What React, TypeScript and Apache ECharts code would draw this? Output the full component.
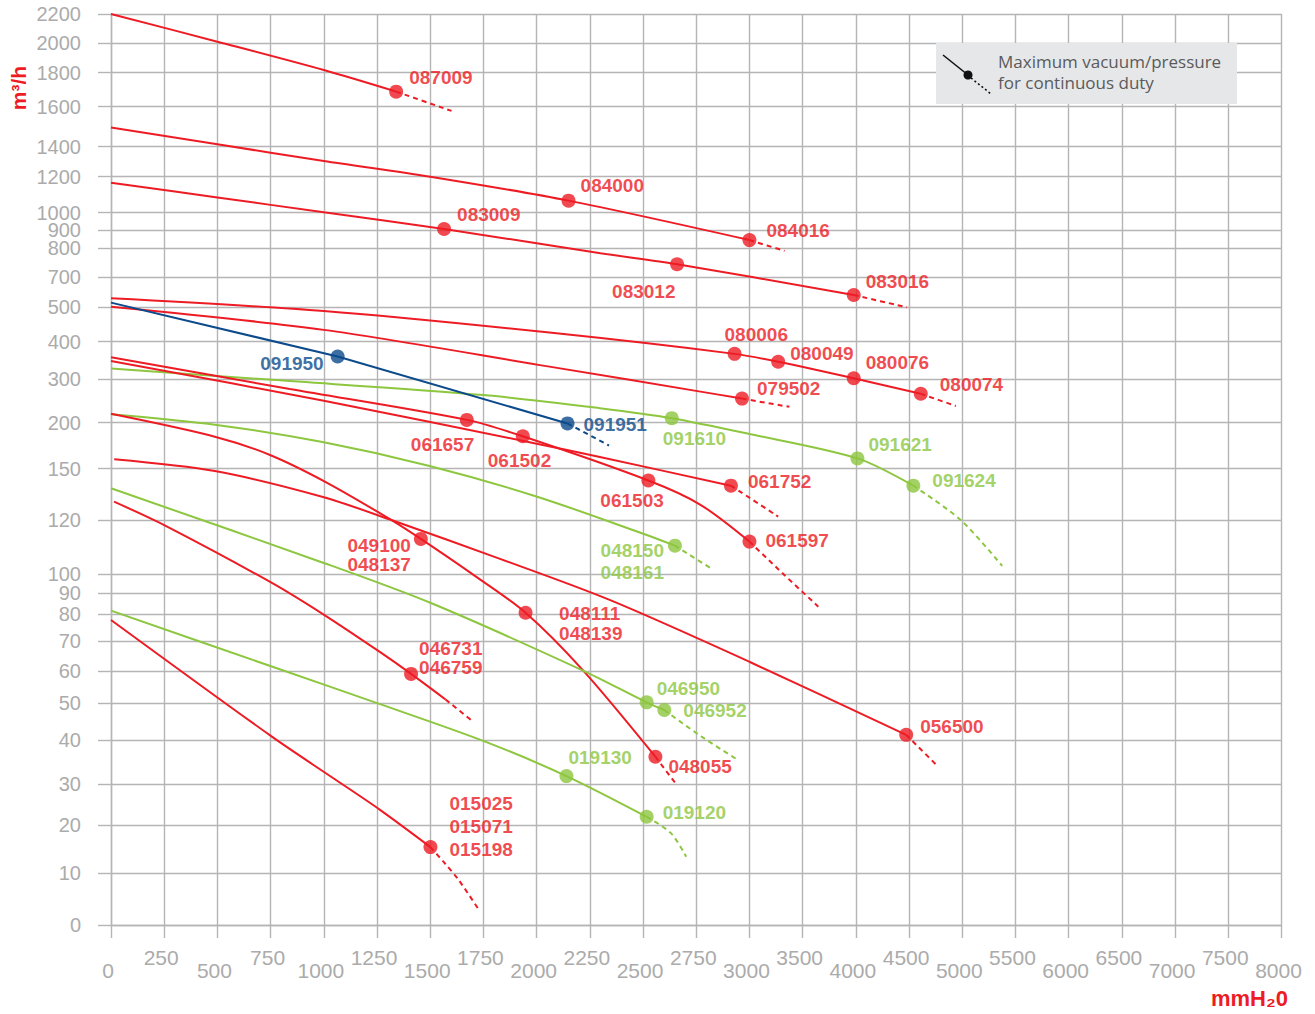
import React, { useEffect, useRef } from 'react';
import * as echarts from 'echarts';

// ---------- axis scales ----------
const xTickLabels = ['0','250','500','750','1000','1250','1500','1750','2000','2250','2500','2750','3000','3500','4000','4500','5000','5500','6000','6500','7000','7500','8000'];
const yTickVals = [0,10,20,30,40,50,60,70,80,90,100,120,150,200,300,400,500,700,800,900,1000,1200,1400,1600,1800,2000,2200];
// axis position of each y tick (non-linear printed scale)
const yTickPos = [0,52,100,141,185,222,254,284,311,332,351,405,456.5,502.5,546,583.5,617.7,647.7,676.7,695,712.3,748.3,778.3,818.5,852.3,881.7,911];

// ---------- data: [mmH2O, m3/h] ----------
const flow087 = [[0,2200],[500,2011],[1000,1818],[1340,1688]];
const dash087 = [[1340,1688],[1600,1578]];
const mark087 = [[1340,1688,'087009']];

const flow084 = [[0,1495],[500,1412],[1000,1305],[1500,1200],[2150,1067],[3000,845]];
const dash084 = [[3000,845],[3330,791]];
const mark084 = [[2150,1067,'084000'],[3000,845,'084016']];

const flow083 = [[0,1167],[500,1085],[1000,1002],[1565,906],[2300,783],[2660,745],[3980,582]];
const dash083 = [[3980,582],[4480,500]];
const mark083 = [[1565,906,'083009'],[2660,745,'083012'],[3980,582,'083016']];

const flow080 = [[0,560],[1000,489],[2060,426],[2930,367],[3270,346],[3980,302],[4610,266]];
const dash080 = [[4610,266],[4940,238]];
const mark080 = [[2930,367,'080006'],[3270,346,'080049'],[3980,302,'080076'],[4610,266,'080074']];

const flow0795 = [[0,504],[1000,434],[2060,333],[2770,271],[2965,255]];
const dash0795 = [[2965,255],[3375,236]];
const mark0795 = [[2965,255,'079502']];

const flow0919 = [[0,531],[1065,360],[2145,199]];
const dash0919 = [[2145,199],[2340,175]];
const mark0919 = [[1065,360,'091950'],[2145,199,'091951']];

const flow0916 = [[0,328],[757,298],[1750,263],[2297,233],[2635,210],[2990,188],[4015,161],[4540,140]];
const dash0916 = [[4540,140],[4985,120],[5375,103]];
const mark0916 = [[2635,210,'091610'],[4015,161,'091621'],[4540,140,'091624']];

const flow0616a = [[0,358],[840,277],[1672,206],[1935,185],[2525,143],[2768,129],[3000,112]];
const dash0616a = [[3000,112],[3318,100],[3647,83.5]];
const mark0616a = [[1672,206,'061657'],[1935,185,'061502'],[2525,143,'061503'],[3000,112,'061597']];

const flow0616b = [[0,348],[1000,250],[2000,177],[2297,162.5],[2913,140]];
const dash0616b = [[2913,140],[3270,122]];
const mark0616b = [[2913,140,'061752']];

const flow0481 = [[0,219],[496,197.4],[994,178.7],[1497,152.7],[1999,133.7],[2498,115],[2650,110.5]];
const dash0481 = [[2650,110.5],[2827,101.7]];
const mark0481 = [[2650,110.5,'048150\n048161']];

const flow048 = [[0,220],[488,184.6],[747,164.7],[1009,142.1],[1324,119.7],[1456,113],[1710,99],[1948,80.6],[2217,60.3],[2558,36.2]];
const dash048 = [[2558,36.2],[2658,29.8]];
const mark048 = [[1456,113,'049100\n048137'],[1948,80.6,'048111\n048139'],[2558,36.2,'048055']];

const flow0565 = [[15,160],[488,148.5],[996,133.4],[1324,119.8],[1828,105.6],[2343,86.7],[3004,63],[4473,41.4]];
const dash0565 = [[4473,41.4],[4750,34.5]];
const mark0565 = [[4473,41.4,'056500']];

const flow0469 = [[0,138.5],[1003,104],[1506,85.1],[2213,60.3],[2517,50.2],[2600,48.1]];
const dash0469 = [[2600,48.1],[2775,40.9],[2945,35.5]];
const mark0469 = [[2517,50.2,'046950'],[2600,48.1,'046952']];

const flow0467 = [[14,130.7],[250,118.1],[756,95.3],[1003,79.6],[1258,66.6],[1410,59.1],[1572,51.1]];
const dash0467 = [[1572,51.1],[1692,45.4]];
const mark0467 = [[1410,59.1,'046731\n046759']];

const flow0191 = [[0,81.6],[759,61.4],[1264,49.7],[1749,39.8],[2140,31.8],[2517,22]];
const dash0191 = [[2517,22],[2631,18.3],[2703,13.4]];
const mark0191 = [[2140,31.8,'019130'],[2517,22,'019120']];

const flow0150 = [[0,77.8],[756,40.9],[1045,31.3],[1264,23.7],[1501,15.4]];
const dash0150 = [[1501,15.4],[1569,12],[1633,8.7],[1729,2.9]];
const mark0150 = [[1501,15.4,'015025\n015071\n015198']];

// ---------- styles ----------
const RED = '#ed1c24';
const GREEN = '#8dc63f';
const BLUE = '#0b4a8b';
const GRID = '#b5b5b5';
const AXIS_TXT = '#ababab';
const NUM_FONT = "'Liberation Sans', Arial, sans-serif";

const curveTable = [
  { color: RED, smooth: 0.3, solid: flow087, dashed: dash087, marks: mark087 },
  { color: RED, smooth: 0.3, solid: flow084, dashed: dash084, marks: mark084 },
  { color: RED, smooth: 0.3, solid: flow083, dashed: dash083, marks: mark083 },
  { color: RED, smooth: 0.3, solid: flow080, dashed: dash080, marks: mark080 },
  { color: RED, smooth: 0.3, solid: flow0795, dashed: dash0795, marks: mark0795 },
  { color: GREEN, smooth: 0.3, solid: flow0916, dashed: dash0916, marks: mark0916 },
  { color: BLUE, smooth: 0, solid: flow0919, dashed: dash0919, marks: mark0919 },
  { color: RED, smooth: 0.3, solid: flow0616b, dashed: dash0616b, marks: mark0616b },
  { color: RED, smooth: 0.3, solid: flow0616a, dashed: dash0616a, marks: mark0616a },
  { color: GREEN, smooth: 0.3, solid: flow0481, dashed: dash0481, marks: mark0481 },
  { color: RED, smooth: 0.3, solid: flow048, dashed: dash048, marks: mark048 },
  { color: RED, smooth: 0.3, solid: flow0565, dashed: dash0565, marks: mark0565 },
  { color: GREEN, smooth: 0.3, solid: flow0469, dashed: dash0469, marks: mark0469 },
  { color: RED, smooth: 0.3, solid: flow0467, dashed: dash0467, marks: mark0467 },
  { color: GREEN, smooth: 0.3, solid: flow0191, dashed: dash0191, marks: mark0191 },
  { color: RED, smooth: 0.3, solid: flow0150, dashed: dash0150, marks: mark0150 },
];

// label placement relative to marker centre (px): [dx, dy, align, lineHeight]
const labelLayout: Record<string, [number, number, string, number?]> = {
  '087009': [13, -14, 'left'],
  '084000': [12, -15, 'left'],
  '084016': [17, -10, 'left'],
  '083009': [13, -14, 'left'],
  '083012': [-65, 27, 'left'],
  '083016': [12, -14, 'left'],
  '080006': [-10, -19, 'left'],
  '080049': [12, -8, 'left'],
  '080076': [12, -16, 'left'],
  '080074': [19, -9, 'left'],
  '079502': [15, -10, 'left'],
  '091950': [-14, 7, 'right'],
  '091951': [16, 1, 'left'],
  '091610': [-9, 20, 'left'],
  '091621': [11, -14, 'left'],
  '091624': [19, -5, 'left'],
  '061657': [-56, 25, 'left'],
  '061502': [-35, 24, 'left'],
  '061503': [-48, 20, 'left'],
  '061752': [17, -4, 'left'],
  '061597': [16, -1, 'left'],
  '048150\n048161': [-11, 16, 'right', 22],
  '049100\n048137': [-10, 16.5, 'right', 19],
  '048111\n048139': [33.5, 11, 'left', 20],
  '048055': [13, 10, 'left'],
  '056500': [14, -8, 'left'],
  '046950': [10, -14, 'left'],
  '046952': [19, 0, 'left'],
  '046731\n046759': [8, -15.5, 'left', 19],
  '019130': [2, -19, 'left'],
  '019120': [16, -4, 'left'],
  '015025\n015071\n015198': [19, -21, 'left', 23],
};

function xPos(v: number) {
  return v <= 3000 ? v : 3000 + (v - 3000) / 2;
}
function xLabelOf(pos: number) {
  const i = Math.round(pos / 250);
  return { i, text: xTickLabels[i] ?? '' };
}
function yPos(v: number) {
  const n = yTickVals.length;
  if (v <= yTickVals[0]) return yTickPos[0];
  for (let i = 1; i < n; i++) {
    if (v <= yTickVals[i]) {
      const t = (v - yTickVals[i - 1]) / (yTickVals[i] - yTickVals[i - 1]);
      return yTickPos[i - 1] + t * (yTickPos[i] - yTickPos[i - 1]);
    }
  }
  const t = (v - yTickVals[n - 2]) / (yTickVals[n - 1] - yTickVals[n - 2]);
  return yTickPos[n - 2] + t * (yTickPos[n - 1] - yTickPos[n - 2]);
}
function yLabelOf(pos: number) {
  let best = 0;
  for (let i = 0; i < yTickPos.length; i++) {
    if (Math.abs(yTickPos[i] - pos) < Math.abs(yTickPos[best] - pos)) best = i;
  }
  return String(yTickVals[best]);
}
const toXY = (pts: any[]) => pts.map((p) => [xPos(p[0]), yPos(p[1])]);

function buildSeries() {
  const series: any[] = [];
  curveTable.forEach((c, k) => {
    series.push({
      type: 'line', name: 'solid' + k, data: toXY(c.solid), symbol: 'none', smooth: c.smooth,
      lineStyle: { color: c.color, width: 2 }, z: 2, silent: true,
    });
    series.push({
      type: 'line', name: 'dash' + k, data: toXY(c.dashed), symbol: 'none', smooth: c.smooth,
      lineStyle: { color: c.color, width: 2, type: [5, 4] }, z: 2, silent: true,
    });
    series.push({
      type: 'scatter', name: 'mark' + k, symbol: 'circle', symbolSize: 14, z: 4,
      itemStyle: { color: c.color },
      data: c.marks.map((m: any) => {
        const lay = labelLayout[m[2]] || [12, -12, 'left'];
        return {
          value: [xPos(m[0]), yPos(m[1])],
          label: {
            show: true, position: 'inside', formatter: m[2],
            offset: [lay[0], lay[1]], align: lay[2], verticalAlign: 'middle',
            color: c.color, fontSize: 19, fontWeight: 'bold', fontFamily: NUM_FONT,
            lineHeight: lay[3] || 19,
          },
        };
      }),
    });
  });
  return series;
}

export default function App() {
  const ref = useRef<HTMLDivElement>(null);
  useEffect(() => {
    if (!ref.current) return;
    const chart = echarts.init(ref.current, undefined, { renderer: 'svg' });
    const option: any = {
      animation: false,
      backgroundColor: '#ffffff',
      grid: { left: 111, top: 14, right: 33.5, bottom: 89, containLabel: false, outerBoundsMode: 'none' },
      xAxis: {
        type: 'value', min: 0, max: 5500, interval: 250,
        axisLine: { show: true, lineStyle: { color: GRID, width: 1.4 } },
        axisTick: { show: true, length: 13, lineStyle: { color: GRID, width: 1.4 } },
        splitLine: { show: true, lineStyle: { color: GRID, width: 1.4 } },
        axisLabel: {
          show: true, margin: 22, hideOverlap: false, showMinLabel: true, showMaxLabel: true,
          formatter: (v: number) => {
            const { i, text } = xLabelOf(v);
            return i % 2 === 0 ? `{lo|${text}}` : `{hi|${text}}`;
          },
          rich: {
            lo: { fontSize: 21, color: AXIS_TXT, fontFamily: NUM_FONT, padding: [13, 6, 0, 0] },
            hi: { fontSize: 21, color: AXIS_TXT, fontFamily: NUM_FONT, padding: [0, 6, 0, 0] },
          },
        },
      },
      yAxis: {
        type: 'value', min: 0, max: 911,
        axisLine: { show: true, lineStyle: { color: GRID, width: 1.4 } },
        axisTick: { show: true, length: 13, customValues: yTickPos, lineStyle: { color: GRID, width: 1.4 } },
        splitLine: { show: true, lineStyle: { color: GRID, width: 1.4 } },
        axisLabel: {
          show: true, margin: 30, customValues: yTickPos, hideOverlap: false,
          color: AXIS_TXT, fontSize: 20, lineHeight: 16, fontFamily: NUM_FONT,
          formatter: (v: number) => yLabelOf(v),
        },
      },
      graphic: [
        { type: 'rect', z: 20, shape: { x: 936, y: 43, width: 301, height: 61 }, style: { fill: '#e6e7e8' } },
        { type: 'line', z: 21, shape: { x1: 943, y1: 55, x2: 968, y2: 75 }, style: { stroke: '#111', lineWidth: 1.6 } },
        { type: 'line', z: 21, shape: { x1: 971, y1: 78, x2: 991, y2: 94 }, style: { stroke: '#111', lineWidth: 1.6, lineDash: [2, 2.5] } },
        { type: 'circle', z: 22, shape: { cx: 968, cy: 75, r: 4.5 }, style: { fill: '#111' } },
        { type: 'text', z: 22, x: 998, y: 61, style: { text: 'Maximum vacuum/pressure', fill: '#5a5a5c', fontSize: 17, fontFamily: "'Open Sans', sans-serif", verticalAlign: 'middle', align: 'left' } },
        { type: 'text', z: 22, x: 998, y: 82, style: { text: 'for continuous duty', fill: '#5a5a5c', fontSize: 17, fontFamily: "'Open Sans', sans-serif", verticalAlign: 'middle', align: 'left' } },
        { type: 'text', z: 22, x: 18, y: 88, rotation: Math.PI / 2, style: { text: 'm³/h', fill: RED, fontSize: 21, fontWeight: 'bold', fontFamily: NUM_FONT, align: 'center', verticalAlign: 'middle' } },
        { type: 'text', z: 22, x: 1288, y: 998, style: { text: 'mmH₂0', fill: RED, fontSize: 22, fontWeight: 'bold', fontFamily: NUM_FONT, align: 'right', verticalAlign: 'middle' } },
      ],
      series: buildSeries(),
    };
    chart.setOption(option);
    return () => chart.dispose();
  }, []);
  return (
    <div
      ref={ref}
      style={{ position: 'absolute', left: 0, top: 0, width: 1315, height: 1014, background: '#fff' }}
    />
  );
}
